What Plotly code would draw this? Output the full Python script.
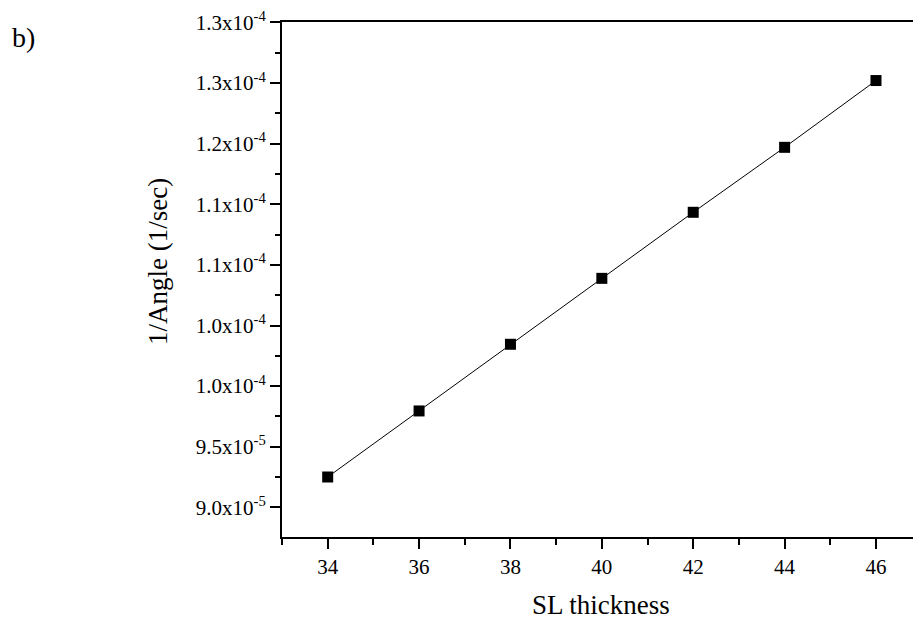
import plotly.graph_objects as go

sl_thickness = [34, 36, 38, 40, 42, 44, 46]
inv_angle = [9.25e-5, 9.795e-5, 1.0345e-4, 1.0889e-4, 1.1434e-4, 1.1970e-4, 1.2521e-4]

y_tick_vals = [9.0e-5, 9.5e-5, 1.0e-4, 1.05e-4, 1.10e-4, 1.15e-4, 1.20e-4, 1.25e-4, 1.30e-4]
y_tick_text = ["9.0x10<sup>-5</sup>", "9.5x10<sup>-5</sup>", "1.0x10<sup>-4</sup>",
               "1.0x10<sup>-4</sup>", "1.1x10<sup>-4</sup>", "1.1x10<sup>-4</sup>",
               "1.2x10<sup>-4</sup>", "1.3x10<sup>-4</sup>", "1.3x10<sup>-4</sup>"]
x_tick_vals = [34, 36, 38, 40, 42, 44, 46]

FONT = "Liberation Serif, Times New Roman, serif"

fig = go.Figure()
fig.add_trace(go.Scatter(
    x=sl_thickness, y=inv_angle, mode="lines+markers",
    line=dict(color="black", width=1),
    marker=dict(symbol="square", size=11, color="black"),
    showlegend=False,
))

fig.update_layout(
    width=913, height=619,
    margin=dict(l=282, r=0, t=22, b=82),
    paper_bgcolor="white", plot_bgcolor="white",
    font=dict(family=FONT, color="black", size=20),
    xaxis=dict(
        range=[33, 46.81], tickmode="array", tickvals=x_tick_vals,
        ticks="outside", ticklen=10, tickwidth=1.5, tickcolor="black",
        showline=True, linecolor="black", linewidth=2, mirror=True,
        showgrid=False, zeroline=False,
        tickfont=dict(family=FONT, size=21),
        minor=dict(dtick=1, tick0=33, ticks="outside", ticklen=6, tickwidth=1.5, tickcolor="black", showgrid=False),
    ),
    yaxis=dict(
        range=[8.755e-5, 1.3004e-4], tickmode="array", tickvals=y_tick_vals, ticktext=y_tick_text,
        ticks="outside", ticklen=10, tickwidth=1.5, tickcolor="black",
        showline=True, linecolor="black", linewidth=2, mirror=False,
        showgrid=False, zeroline=False,
        tickfont=dict(family=FONT, size=21),
        minor=dict(dtick=5e-6, tick0=8.75e-5, ticks="outside", ticklen=5, tickwidth=1.5, tickcolor="black", showgrid=False),
    ),
    annotations=[
        dict(text="SL thickness", xref="paper", yref="paper", x=(601 - 282) / 631, y=-(605 - 537) / 515,
             xanchor="center", yanchor="middle", showarrow=False, font=dict(family=FONT, size=27)),
        dict(text="1/Angle (1/sec)", xref="paper", yref="paper", x=-(282 - 158) / 631, y=(537 - 262) / 515,
             xanchor="center", yanchor="middle", textangle=-90, showarrow=False, font=dict(family=FONT, size=27)),
        dict(text="b)", xref="paper", yref="paper", x=-(282 - 23) / 631, y=(537 - 38) / 515,
             xanchor="center", yanchor="middle", showarrow=False, font=dict(family=FONT, size=28)),
    ],
)

fig.write_html("out.html")
